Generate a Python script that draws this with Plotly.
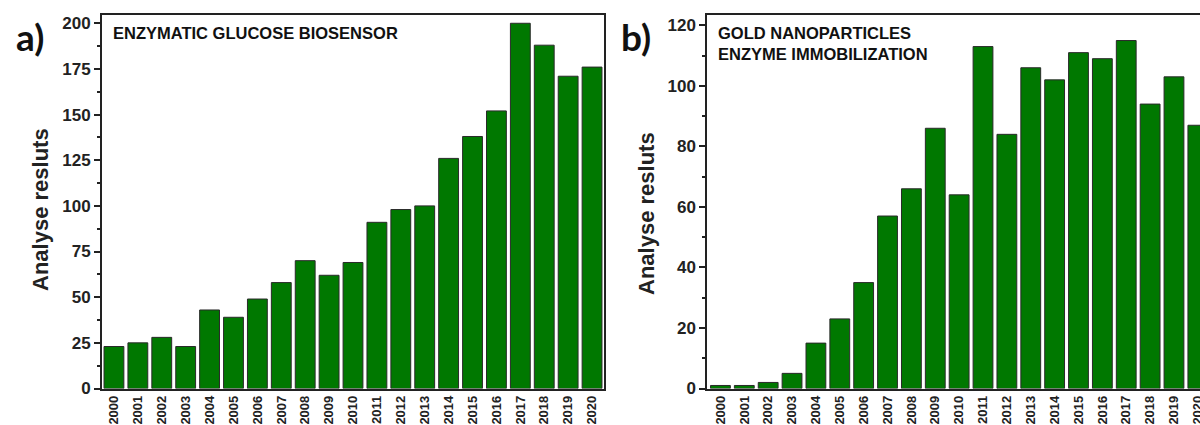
import plotly.graph_objects as go

# Publication counts per year
years = [str(y) for y in range(2000, 2021)]
glucose_biosensor = [23, 25, 28, 23, 43, 39, 49, 58, 70, 62, 69, 91, 98, 100,
                     126, 138, 152, 200, 188, 171, 176]
gold_np_immobilization = [1, 1, 2, 5, 15, 23, 35, 57, 66, 86, 64, 113, 84, 106,
                          102, 111, 109, 115, 94, 103, 87]

panel_titles = ["ENZYMATIC GLUCOSE BIOSENSOR",
                "GOLD NANOPARTICLES<br>ENZYME IMMOBILIZATION"]
panel_labels = ["a)", "b)"]
y_title = "Analyse resluts"

W, H = 1200, 425
BAR = "#007800"
EDGE = "#2a2a2a"
AXIS = "#222222"
FONT = "Liberation Sans, Arial, sans-serif"


def fx(px):
    return px / W


def fy(py):
    return 1 - py / H


fig = go.Figure()
fig.add_trace(go.Bar(x=list(range(len(years))), y=glucose_biosensor,
                     marker=dict(color=BAR, line=dict(color=EDGE, width=1)),
                     xaxis="x", yaxis="y", showlegend=False))
fig.add_trace(go.Bar(x=list(range(len(years))), y=gold_np_immobilization,
                     marker=dict(color=BAR, line=dict(color=EDGE, width=1)),
                     xaxis="x2", yaxis="y2", showlegend=False))

ydom = [fy(388.5), fy(14.5)]

common_x = dict(
    tickmode="array", tickvals=list(range(len(years))), ticktext=years,
    tickangle=-90, ticks="", showline=True, linecolor=AXIS, linewidth=2,
    showgrid=False, zeroline=False, automargin=False,
    ticklabeloverflow="allow",
    tickfont=dict(family=FONT, size=13, color="#222", weight="bold"),
)
common_y = dict(
    ticks="outside", ticklen=6, tickwidth=1.5, tickcolor=AXIS,
    showline=True, linecolor=AXIS, linewidth=2, showgrid=False,
    zeroline=False, automargin=False, domain=ydom,
    tickfont=dict(family=FONT, size=17, color="#222", weight="bold"),
)

fig.update_layout(
    width=W, height=H,
    margin=dict(l=0, r=0, t=0, b=0),
    plot_bgcolor="white", paper_bgcolor="white",
    bargap=0.17,
    xaxis=dict(common_x, domain=[fx(102), fx(604)], range=[-0.5, 20.5],
               mirror=True, anchor="y"),
    yaxis=dict(common_y, range=[0, 204.8], tickmode="linear", tick0=0, dtick=25,
               mirror=True, anchor="x",
               minor=dict(ticks="outside", ticklen=3, tickcolor=AXIS,
                          tickmode="linear", tick0=0, dtick=12.5)),
    xaxis2=dict(common_x, domain=[fx(707.3), 1.0], range=[-0.55, 20.09],
                mirror=True, anchor="y2"),
    yaxis2=dict(common_y, range=[0, 123.6], tickmode="linear", tick0=0, dtick=20,
                mirror=False, anchor="x2",
                minor=dict(ticks="outside", ticklen=3, tickcolor=AXIS,
                           tickmode="linear", tick0=0, dtick=10)),
)

# Axis titles placed explicitly so both panels line up
for xc, yc in [(40, 210), (646, 214)]:
    fig.add_annotation(text=y_title, x=fx(xc), y=fy(yc), xref="paper", yref="paper",
                       textangle=-90, showarrow=False, xanchor="center", yanchor="middle",
                       font=dict(family=FONT, size=22, color="#222", weight="bold"))

# Panel captions inside the frames
fig.add_annotation(text=panel_titles[0], x=fx(111), y=fy(33), xref="paper", yref="paper",
                   showarrow=False, xanchor="left", yanchor="middle", align="left",
                   font=dict(family=FONT, size=16.5, color="#111", weight="bold"))
fig.add_annotation(text=panel_titles[1], x=fx(716), y=fy(43.5), xref="paper", yref="paper",
                   showarrow=False, xanchor="left", yanchor="middle", align="left",
                   font=dict(family=FONT, size=16.5, color="#111", weight="bold"))

# Panel letters
for lbl, xc in zip(panel_labels, [30, 636]):
    fig.add_annotation(text=lbl, x=fx(xc), y=fy(36), xref="paper", yref="paper",
                       showarrow=False, xanchor="center", yanchor="middle",
                       font=dict(family="Lato, Open Sans, sans-serif", size=37,
                                 color="#111", weight="bold"))

fig.write_html("out.html")
